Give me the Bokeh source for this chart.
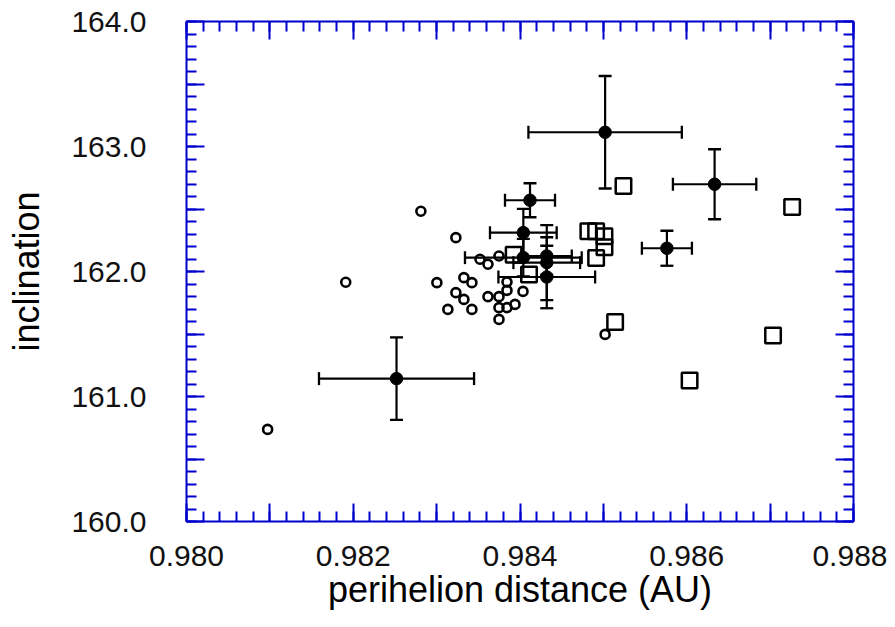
import numpy as np
from bokeh.plotting import figure
from bokeh.models import Range1d, LinearAxis, FixedTicker, ColumnDataSource, Whisker, TeeHead
from bokeh.embed import file_html
from bokeh.resources import INLINE

# ---- data: open circles ----
circ_q = [0.980973, 0.981910, 0.982811, 0.983231, 0.983520, 0.983616, 0.983748,
          0.983003, 0.983327, 0.983423, 0.983231, 0.983327, 0.983135, 0.983423,
          0.983616, 0.983748, 0.983748, 0.983748, 0.983844, 0.983844, 0.983844,
          0.983940, 0.984036, 0.985021]
circ_i = [160.737, 161.914, 162.482, 162.271, 162.098, 162.058, 162.124,
          161.911, 161.951, 161.911, 161.831, 161.777, 161.697, 161.697,
          161.799, 161.799, 161.711, 161.617, 161.916, 161.849, 161.711,
          161.737, 161.841, 161.497]

# ---- data: open squares ----
sq_q = [0.983924, 0.984108, 0.984820, 0.984913, 0.985013, 0.985013, 0.984913,
        0.985241, 0.987264, 0.985141, 0.987035, 0.986034]
sq_i = [162.135, 161.977, 162.322, 162.322, 162.282, 162.194, 162.108,
        162.685, 162.516, 161.596, 161.489, 161.129]

# ---- data: filled points with error bars ----
pt_q = [0.982519, 0.985021, 0.986334, 0.985762, 0.984120, 0.984040, 0.984040,
        0.984321, 0.984321, 0.984321]
pt_i = [161.143, 163.114, 162.698, 162.186, 162.570, 162.311, 162.111,
        162.124, 162.071, 161.956]
pt_qerr = [0.00093, 0.00092, 0.00050, 0.00030, 0.00030, 0.00040, 0.00070,
           0.00030, 0.00040, 0.00058]
pt_ierr = [0.33, 0.45, 0.28, 0.14, 0.136, 0.19, 0.15, 0.15, 0.30, 0.25]

# ---- ticks ----
x_major = [0.980, 0.981, 0.982, 0.983, 0.984, 0.985, 0.986, 0.987, 0.988]
x_labels = ["0.980", "", "0.982", "", "0.984", "", "0.986", "", "0.988"]
y_major = [160.0, 160.5, 161.0, 161.5, 162.0, 162.5, 163.0, 163.5, 164.0]
y_labels = ["160.0", "", "161.0", "", "162.0", "", "163.0", "", "164.0"]

x_minor = [round(v, 4) for v in np.arange(0.9800, 0.98801, 0.0002)]
y_minor = [round(v, 1) for v in np.arange(160.0, 164.01, 0.1)]

BLUE = "#0000CD"
FONT = "Liberation Sans"

p = figure(width=887, height=619,
           x_range=Range1d(0.980, 0.988), y_range=Range1d(160.0, 164.0),
           output_backend="svg", toolbar_location=None,
           min_border_left=186, min_border_right=34,
           min_border_top=21, min_border_bottom=98,
           x_axis_label="perihelion distance (AU)", y_axis_label="inclination")
p.outline_line_color = None
p.grid.visible = False
p.background_fill_color = "white"
p.border_fill_color = "white"

p.add_layout(LinearAxis(), "above")
p.add_layout(LinearAxis(), "right")


def style_axis(ax, majors, minors, labels, show):
    ax.ticker = FixedTicker(ticks=majors, minor_ticks=minors)
    ax.axis_line_color = BLUE
    ax.axis_line_width = 2
    ax.major_tick_line_color = BLUE
    ax.major_tick_line_width = 2
    ax.major_tick_in = 18
    ax.major_tick_out = 0
    ax.minor_tick_line_color = BLUE
    ax.minor_tick_line_width = 2
    ax.minor_tick_in = 10
    ax.minor_tick_out = 0
    if show:
        ax.major_label_overrides = {m: l for m, l in zip(majors, labels)}
        ax.major_label_text_font = FONT
        ax.major_label_text_font_size = "30px"
        ax.major_label_text_color = "#111111"
        ax.axis_label_text_font = FONT
        ax.axis_label_text_font_size = "36px"
        ax.axis_label_text_font_style = "normal"
        ax.axis_label_text_color = "#000000"
    else:
        ax.major_label_text_font_size = "0px"
        ax.major_label_standoff = 0
        ax.axis_label_standoff = 0
        ax.major_label_overrides = {m: "" for m in majors}


style_axis(p.below[0], x_major, x_minor, x_labels, True)
style_axis(p.above[0], x_major, x_minor, x_labels, False)
style_axis(p.left[0], y_major, y_minor, y_labels, True)
style_axis(p.right[0], y_major, y_minor, y_labels, False)

p.below[0].major_label_standoff = 24
p.below[0].axis_label_standoff = 0
p.left[0].major_label_standoff = 40
p.left[0].axis_label_standoff = 21

# error bars
src = ColumnDataSource(dict(
    q=pt_q, i=pt_i,
    ql=[a - b for a, b in zip(pt_q, pt_qerr)], qu=[a + b for a, b in zip(pt_q, pt_qerr)],
    il=[a - b for a, b in zip(pt_i, pt_ierr)], iu=[a + b for a, b in zip(pt_i, pt_ierr)],
))


def tee():
    return TeeHead(size=13, line_width=2.3, line_color="black")


p.add_layout(Whisker(base="i", lower="ql", upper="qu", dimension="width", source=src,
                     line_width=2.2, line_color="black", upper_head=tee(), lower_head=tee(),
                     level="glyph"))
p.add_layout(Whisker(base="q", lower="il", upper="iu", dimension="height", source=src,
                     line_width=2.2, line_color="black", upper_head=tee(), lower_head=tee(),
                     level="glyph"))

p.scatter(circ_q, circ_i, marker="circle", size=9, line_width=2.6,
          line_color="black", fill_color=None)
p.scatter(sq_q, sq_i, marker="square", size=15.5, line_width=2.5,
          line_color="black", fill_color=None)
p.scatter("q", "i", source=src, marker="circle", size=12.5, line_width=1,
          line_color="black", fill_color="black")

open("out.html", "w").write(file_html(p, INLINE))
